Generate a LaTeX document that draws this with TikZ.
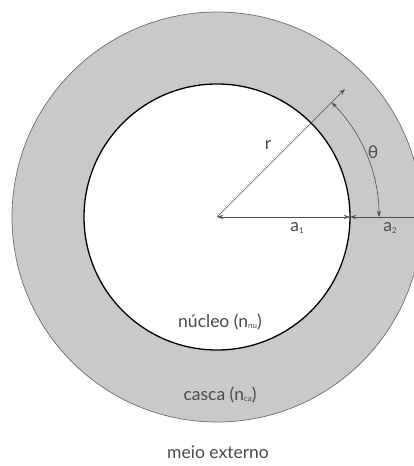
\documentclass[tikz,border=0pt]{standalone}
\usepackage{fontspec}
\setmainfont{Lato}
\usetikzlibrary{arrows.meta, positioning}
\definecolor{shellGrey}{HTML}{C9C9C9}
\definecolor{edgeGrey}{HTML}{6E6E6E}
\definecolor{lineGrey}{HTML}{505050}
\definecolor{txtGrey}{HTML}{4A4A4A}
\tikzset{
  shell/.style    = {fill=shellGrey, draw=edgeGrey, line width=0.7pt},
  core/.style     = {fill=white, draw=black, line width=1.3pt},
  dimline/.style  = {lineGrey, line width=0.6pt},
  tip/.style      = {-{Stealth[length=6pt, width=4pt]}},
  twotip/.style   = {{Stealth[length=6pt, width=4pt]}-{Stealth[length=6pt, width=4pt]}},
  lbl/.style      = {font=\fontsize{17.5}{20}\selectfont, txtGrey, inner sep=1pt},
}
\newcommand{\subtxt}[1]{\raisebox{-0.15ex}{\fontsize{8}{9}\selectfont #1}}

\begin{document}
\begin{tikzpicture}[x=1pt,y=1pt]
  \clip (-217,-249) rectangle (197,217);
  % shell and core
  \coordinate (O) at (0,0);
  \draw[shell] (O) circle[radius=205];
  \draw[core] (O) circle[radius=133];
  \coordinate (a1end) at (0:133);
  \coordinate (edge) at (0:200);
  \coordinate (rend) at (45:181);
  % dimensions
  \draw[dimline, twotip] (O) -- (a1end);
  \draw[dimline, tip] (edge) -- (a1end);
  \draw[dimline, tip] (O) -- (rend);
  \draw[dimline, twotip] (45:162) arc[start angle=45, end angle=0, radius=162];
  % labels
  \node[lbl] (r) at (51,72) {r};
  \node[lbl] (theta) at (156,65) {θ};
  \node[lbl] (a1) at (80,-11) {a\subtxt{1}};
  \node[lbl] (a2) at (173,-11) {a\subtxt{2}};
  \node[lbl] (nucleo) at (3,-105) {núcleo (n\subtxt{nu})};
  \node[lbl] (casca) at (3,-178) {casca (n\subtxt{ca})};
  \node[lbl] (meio) at (1,-235) {meio externo};
\end{tikzpicture}
\end{document}
